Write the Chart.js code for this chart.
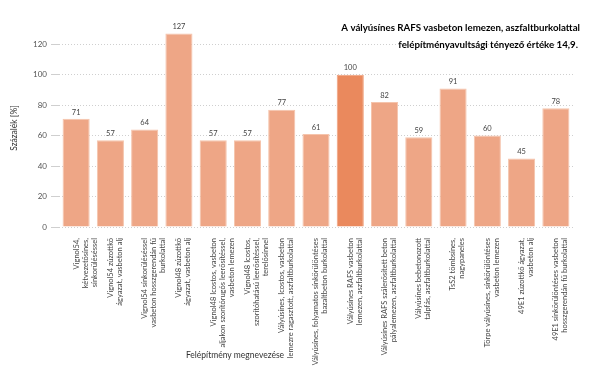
<!DOCTYPE html>
<html lang="hu">
<head>
  <meta charset="UTF-8">
  <title>Felépítményavultsági tényező</title>
  <script src="https://cdn.jsdelivr.net/npm/chart.js"></script>
  <style>
    html, body { margin: 0; padding: 0; background: #fff; }
    #wrap { width: 600px; height: 377px; }
  </style>
</head>
<body>
  <div id="wrap"><canvas id="chart" width="600" height="377"></canvas></div>

  <script>
    const categories = [
      ["Vignol54,", "kétvezetősínes,", "sínkorüléséssel"],
      ["Vignol54 zúzottkő", "ágyazat, vasbeton alj"],
      ["Vignol54 sínkorüléséssel", "vasbeton hosszgerendán fű", "burkolattal"],
      ["Vignol48 zúzottkő", "ágyazat, vasbeton alj"],
      ["Vignol48 Icostos, vasbeton", "aljakon szorítórugós leerősítéssel,", "vasbeton lemezen"],
      ["Vignol48 Icostos,", "szorítóhatású leerősítéssel,", "terelősínnel"],
      ["Vályúsínes, Icostos, vasbeton", "lemezre ragasztott, aszfaltburkolattal"],
      ["Vályúsínes, folyamatos sínkörülöntéses", "bazaltbeton burkolattal"],
      ["Vályúsínes RAFS vasbeton", "lemezen, aszfaltburkolattal"],
      ["Vályúsínes RAFS szálerősített beton", "pályalemezen, aszfaltburkolattal"],
      ["Vályúsínes bebetonozott", "talpfás, aszfaltburkolattal"],
      ["TsS2 tömbsínes,", "nagypaneles"],
      ["Törpe vályúsínes, sínkörülöntéses", "vasbeton lemezen"],
      ["49E1 zúzottkő ágyazat,", "vasbeton alj"],
      ["49E1 sínkörülöntéses vasbeton", "hosszgerendán fű burkolattal"]
    ];
    const values = [71, 57, 64, 127, 57, 57, 77, 61, 100, 82, 59, 91, 60, 45, 78];
    const highlightIndex = 8;
    const yTicks = [0, 20, 40, 60, 80, 100, 120];

    const titleLines = [
      "A vályúsínes RAFS vasbeton lemezen, aszfaltburkolattal",
      "felépítményavultsági tényező értéke 14,9."
    ];
    const xTitle = "Felépítmény megnevezése";
    const yTitle = "Százalék [%]";

    const baseColor = '#EEA686';
    const hiColor = '#EA895D';
    const font = "'Segoe UI', Lato, 'Noto Sans', sans-serif";

    // value labels above the bars + title + x axis title
    const extras = {
      id: 'extras',
      afterDatasetsDraw(chart) {
        const ctx = chart.ctx;
        const meta = chart.getDatasetMeta(0);
        ctx.save();
        ctx.font = "7.5px " + font;
        ctx.fillStyle = '#444';
        ctx.textAlign = 'center';
        ctx.textBaseline = 'bottom';
        meta.data.forEach((bar, i) => {
          ctx.fillText(String(values[i]), bar.x, bar.y - 3);
        });
        ctx.restore();
      },
      afterDraw(chart) {
        const ctx = chart.ctx;
        ctx.save();
        ctx.font = "bold 9.7px " + font;
        ctx.fillStyle = '#000';
        ctx.textAlign = 'right';
        ctx.textBaseline = 'middle';
        ctx.fillText(titleLines[0], 580, 28);
        ctx.fillText(titleLines[1], 578, 45);

        ctx.font = "8.5px " + font;
        ctx.fillStyle = '#333';
        ctx.textAlign = 'center';
        ctx.fillText(xTitle, 235, 355);
        ctx.restore();
      }
    };

    new Chart(document.getElementById('chart'), {
      type: 'bar',
      data: {
        labels: categories,
        datasets: [{
          label: yTitle,
          data: values,
          backgroundColor: values.map((v, i) => i === highlightIndex ? hiColor : baseColor),
          borderColor: values.map((v, i) => i === highlightIndex ? '#F0A17C' : '#F5C4AC'),
          borderWidth: 1,
          categoryPercentage: 0.86,
          barPercentage: 0.92
        }]
      },
      options: {
        responsive: false,
        animation: false,
        layout: { padding: { left: 0, right: 27, top: 29, bottom: 0 } },
        plugins: {
          legend: { display: false },
          tooltip: { enabled: false }
        },
        scales: {
          x: {
            grid: { display: false },
            border: { display: false },
            ticks: {
              minRotation: 90,
              maxRotation: 90,
              autoSkip: false,
              padding: 3,
              color: '#444',
              font: { size: 7.5, family: font, lineHeight: 1.2 }
            },
            afterFit(scale) { scale.height = 150; }
          },
          y: {
            min: 0,
            max: 130,
            border: { display: false, dash: [1, 2] },
            afterBuildTicks(scale) { scale.ticks = yTicks.map(v => ({ value: v })); },
            grid: {
              color: '#cfcfcf',
              tickLength: 8,
              lineWidth: 1
            },
            ticks: {
              padding: 4,
              color: '#555',
              font: { size: 8, family: font }
            },
            title: {
              display: true,
              text: yTitle,
              color: '#333',
              font: { size: 8.5, family: font },
              padding: { top: 9, bottom: 4 }
            },
            afterFit(scale) { scale.width = 59; }
          }
        }
      },
      plugins: [extras]
    });
  </script>
</body>
</html>
